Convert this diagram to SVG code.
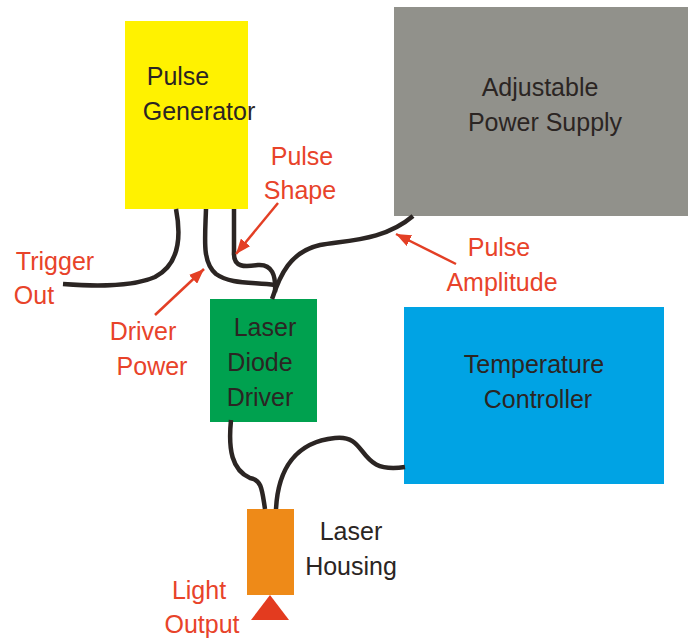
<svg xmlns="http://www.w3.org/2000/svg" width="688" height="641" viewBox="0 0 688 641">
<style>
text{font-family:"Liberation Sans",Arial,sans-serif;font-size:25px;text-anchor:middle}
.k{fill:#2b2523}
.r{fill:#e8432a}
.c{fill:none;stroke:#2b2523;stroke-width:4.5px}
.a{fill:none;stroke:#e33f25;stroke-width:2.5px}
</style>
<defs><marker id="ah" markerUnits="userSpaceOnUse" markerWidth="16" markerHeight="12" refX="15" refY="6" orient="auto"><path d="M0 0L15 6L0 12Z" fill="#e33f25"/></marker></defs>
<rect width="688" height="641" fill="#fff"/>
<g id="pulse-generator"><rect x="125" y="21" width="123" height="188" fill="#fff200"/><text class="k" x="178" y="85">Pulse</text><text class="k" x="199" y="120">Generator</text></g>
<g id="power-supply"><rect x="394" y="7" width="294" height="209" fill="#91918b"/><text class="k" x="540" y="96">Adjustable</text><text class="k" x="545" y="131">Power Supply</text></g>
<g id="laser-diode-driver"><rect x="210" y="299" width="107" height="123" fill="#00a14f"/><text class="k" x="265" y="336">Laser</text><text class="k" x="260" y="371">Diode</text><text class="k" x="260" y="406">Driver</text></g>
<g id="temperature-controller"><rect x="404" y="307" width="260" height="177" fill="#00a3e4"/><text class="k" x="534" y="373">Temperature</text><text class="k" x="538" y="408">Controller</text></g>
<g id="laser-housing"><rect x="247" y="509" width="47" height="86" fill="#ee8a18"/><path d="M270 595L289 620H251Z" fill="#e33b1f"/></g>
<g id="labels"><text class="k" x="351" y="540">Laser</text><text class="k" x="351" y="575">Housing</text><text class="r" x="199" y="599">Light</text><text class="r" x="202" y="633">Output</text><text class="r" x="55" y="270">Trigger</text><text class="r" x="34" y="304">Out</text><text class="r" x="143" y="340">Driver</text><text class="r" x="152" y="375">Power</text><text class="r" x="302" y="165">Pulse</text><text class="r" x="300" y="199">Shape</text><text class="r" x="499" y="256">Pulse</text><text class="r" x="502" y="291">Amplitude</text></g>
<g id="connectors">
<path class="c" d="M176 209C182 240 178 265 155 277C130 288 90 286 63 284"/>
<path class="c" d="M206 209C205 240 202 262 216 274C230 284 250 282 275 285"/>
<path class="c" d="M234 209V252C233 268 245 267 258 265C272 264 276 275 275 292"/>
<path class="c" d="M272 299C280 275 290 252 320 245C350 240 385 240 413 216"/>
<path class="c" d="M231 420C228 450 232 470 250 478C262 480 262 490 265 509"/>
<path class="c" d="M276 509C278 470 295 442 335 438C370 434 355 475 405 467"/>
<path class="a" marker-end="url(#ah)" d="M155 315L204 269"/>
<path class="a" marker-end="url(#ah)" d="M278 203L236 254"/>
<path class="a" marker-end="url(#ah)" d="M456 264L396 234"/>
</g>
</svg>
